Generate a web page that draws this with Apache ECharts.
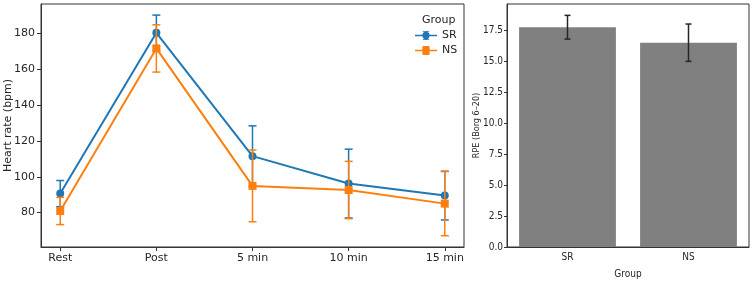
<!DOCTYPE html>
<html>
<head>
<meta charset="utf-8">
<script src="https://cdn.jsdelivr.net/npm/echarts@6/dist/echarts.min.js"></script>
<style>
  html, body { margin: 0; padding: 0; background: #fff; }
  #chart { width: 756px; height: 283px; }
</style>
</head>
<body>
<div id="chart"></div>
<script>
// heart rate panel
const timeLabels = ["Rest", "Post", "5 min", "10 min", "15 min"];
const srMean = [90.6, 180.3, 111.5, 96.2, 89.5];
const srErr = [7.3, 9.9, 16.9, 19.2, 13.6];
const nsMean = [80.9, 171.6, 94.9, 92.6, 85.0];
const nsErr = [7.6, 13.2, 20.0, 16.0, 17.9];
const hrTicks = [80, 100, 120, 140, 160, 180];

// RPE panel
const groups = ["SR", "NS"];
const rpeMean = [17.78, 16.53];
const rpeErr = [0.96, 1.51];
const rpeTicks = [0, 2.5, 5, 7.5, 10, 12.5, 15, 17.5];

const BLUE = "#1f77b4";
const ORANGE = "#ff7f0e";
const TXT = "#262626";

const toPoints = (arr) => arr.map((v, i) => [i, v]);
const toErr = (m, e) => m.map((v, i) => [i, v - e[i], v + e[i]]);

// draws a vertical error bar with caps
function errRender(color, capHalf, lw) {
  return function (params, api) {
    const x = api.value(0);
    const lo = api.coord([x, api.value(1)]);
    const hi = api.coord([x, api.value(2)]);
    const st = { stroke: color, lineWidth: lw };
    return {
      type: "group",
      children: [
        { type: "line", shape: { x1: lo[0], y1: lo[1], x2: hi[0], y2: hi[1] }, style: st },
        { type: "line", shape: { x1: hi[0] - capHalf, y1: hi[1], x2: hi[0] + capHalf, y2: hi[1] }, style: st },
        { type: "line", shape: { x1: lo[0] - capHalf, y1: lo[1], x2: lo[0] + capHalf, y2: lo[1] }, style: st },
      ],
    };
  };
}

// legend glyphs: line + error bar + marker (pieces kept from overlapping)
const srIcon = "path://M0,4.3h8v1.4H0z M16,4.3h8v1.4h-8z M8.5,0h7v1h-7z M8.5,9h7v1h-7z M8,5a4,4 0 1,1 8,0a4,4 0 1,1 -8,0z";
const nsIcon = "path://M0,4.3h8v1.4H0z M16,4.3h8v1.4h-8z M8.5,0h7v1h-7z M8.5,9h7v1h-7z M8,1h8v8h-8z";

const font = "DejaVu Sans";
const narrow = "'Liberation Sans Narrow', 'DejaVu Sans Condensed', 'DejaVu Sans'";

const option = {
  animation: false,
  textStyle: { fontFamily: font, color: TXT },
  title: {
    text: "Group",
    left: 417,
    top: 10,
    textStyle: { fontSize: 11, fontWeight: "normal", color: TXT, fontFamily: font },
  },
  legend: {
    data: [
      { name: "SR", icon: srIcon },
      { name: "NS", icon: nsIcon },
    ],
    orient: "vertical",
    left: 410,
    top: 25,
    itemWidth: 22,
    itemHeight: 11,
    itemGap: 4,
    textStyle: { fontSize: 11, color: TXT, fontFamily: font },
  },
  grid: [
    { left: 41, top: 4, width: 423, height: 243, outerBoundsMode: "none", show: true, borderColor: "#333", borderWidth: 1 },
    { left: 507, top: 4, width: 242, height: 243, outerBoundsMode: "none", show: true, borderColor: "#333", borderWidth: 1 },
  ],
  xAxis: [
    {
      type: "value",
      gridIndex: 0,
      min: -0.2,
      max: 4.2,
      splitLine: { show: false },
      axisLine: { onZero: false, lineStyle: { color: "#333" } },
      axisTick: { length: 4, lineStyle: { color: "#333" }, customValues: [0, 1, 2, 3, 4] },
      axisLabel: {
        customValues: [0, 1, 2, 3, 4],
        formatter: (v) => timeLabels[v],
        fontSize: 11,
        color: TXT,
        margin: 6,
      },
    },
    {
      type: "category",
      gridIndex: 1,
      data: groups,
      name: "Group",
      nameLocation: "middle",
      nameGap: 22,
      nameMoveOverlap: false,
      nameTextStyle: { fontSize: 10, color: TXT, fontFamily: narrow },
      axisLine: { lineStyle: { color: "#333" } },
      axisTick: { alignWithLabel: true, length: 3, lineStyle: { color: "#333" } },
      axisLabel: { fontSize: 10, color: TXT, fontFamily: narrow, margin: 5 },
    },
  ],
  yAxis: [
    {
      type: "value",
      gridIndex: 0,
      min: 60.8,
      max: 196.4,
      name: "Heart rate (bpm)",
      nameLocation: "middle",
      nameRotate: 90,
      nameGap: 27,
      nameMoveOverlap: false,
      nameTextStyle: { fontSize: 11, color: TXT },
      splitLine: { show: false },
      axisLine: { show: true, onZero: false, lineStyle: { color: "#333" } },
      axisTick: { show: true, length: 4, lineStyle: { color: "#333" }, customValues: hrTicks },
      axisLabel: { customValues: hrTicks, fontSize: 11, color: TXT, margin: 6 },
    },
    {
      type: "value",
      gridIndex: 1,
      min: 0,
      max: 19.66,
      name: "RPE (Borg 6\u201320)",
      nameLocation: "middle",
      nameRotate: 90,
      nameGap: 26,
      nameMoveOverlap: false,
      nameTextStyle: { fontSize: 9, color: TXT, fontFamily: narrow },
      splitLine: { show: false },
      axisLine: { show: true, onZero: false, lineStyle: { color: "#333" } },
      axisTick: { show: true, length: 3, lineStyle: { color: "#333" }, customValues: rpeTicks },
      axisLabel: {
        customValues: rpeTicks,
        formatter: (v) => v.toFixed(1),
        fontSize: 10,
        color: TXT,
        fontFamily: narrow,
        margin: 4,
      },
    },
  ],
  series: [
    {
      name: "SR err",
      type: "custom",
      xAxisIndex: 0,
      yAxisIndex: 0,
      data: toErr(srMean, srErr),
      renderItem: errRender(BLUE, 4, 1.5),
      z: 2,
      silent: true,
    },
    {
      name: "SR",
      type: "line",
      xAxisIndex: 0,
      yAxisIndex: 0,
      data: toPoints(srMean),
      symbol: "circle",
      symbolSize: 8,
      lineStyle: { color: BLUE, width: 2 },
      itemStyle: { color: BLUE },
      z: 3,
    },
    {
      name: "NS err",
      type: "custom",
      xAxisIndex: 0,
      yAxisIndex: 0,
      data: toErr(nsMean, nsErr),
      renderItem: errRender(ORANGE, 4, 1.5),
      z: 4,
      silent: true,
    },
    {
      name: "NS",
      type: "line",
      xAxisIndex: 0,
      yAxisIndex: 0,
      data: toPoints(nsMean),
      symbol: "rect",
      symbolSize: 8,
      lineStyle: { color: ORANGE, width: 2 },
      itemStyle: { color: ORANGE },
      z: 5,
    },
    {
      name: "RPE",
      type: "bar",
      xAxisIndex: 1,
      yAxisIndex: 1,
      data: rpeMean,
      barWidth: "80%",
      itemStyle: { color: "#808080" },
      z: 2,
    },
    {
      name: "RPE err",
      type: "custom",
      xAxisIndex: 1,
      yAxisIndex: 1,
      data: toErr(rpeMean, rpeErr),
      renderItem: errRender("#262626", 3, 1.5),
      z: 5,
      silent: true,
    },
  ],
};

const chart = echarts.init(document.getElementById("chart"));
chart.setOption(option);
</script>
</body>
</html>
